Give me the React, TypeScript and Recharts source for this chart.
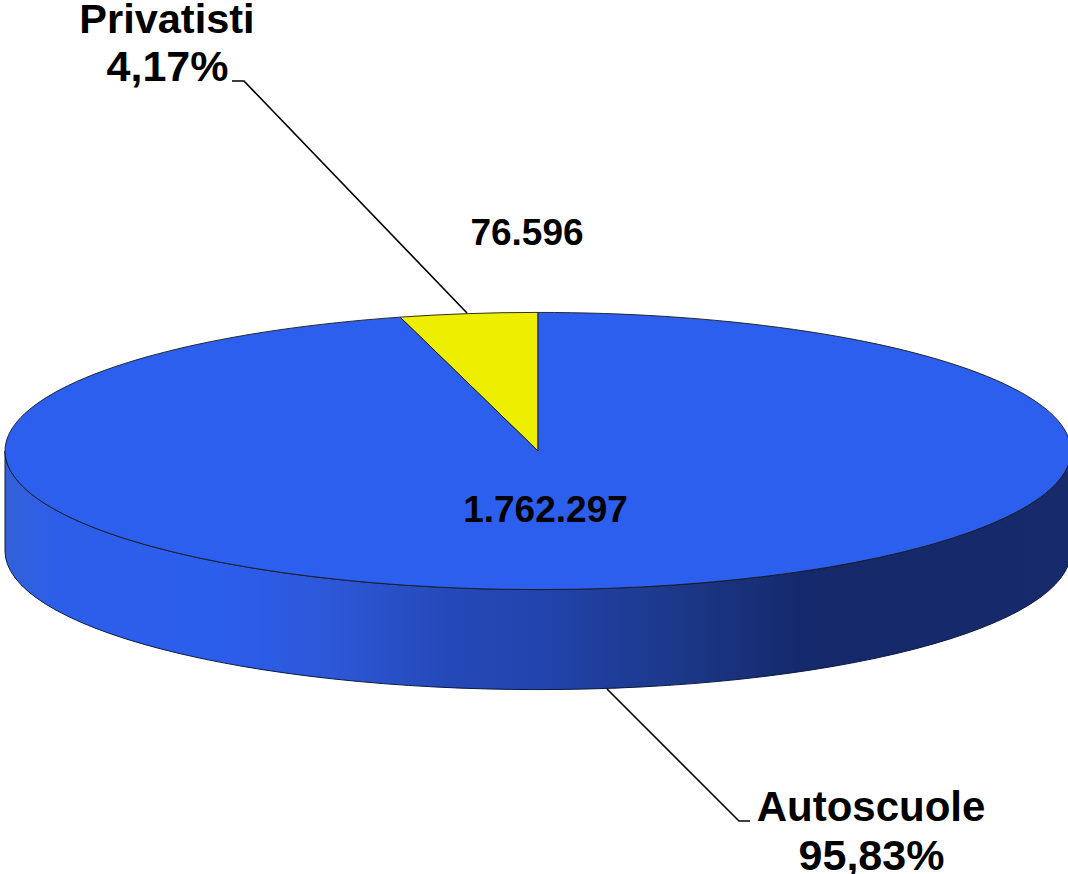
import { PieChart, Pie } from 'recharts';

const CATEGORIES = ['Privatisti', 'Autoscuole'];
const VALUES = [76596, 1762297];
const COLORS = ['#eeee00', '#2d5fee'];

const chartData = CATEGORIES.map((name, i) => ({ name, value: VALUES[i], fill: COLORS[i] }));

const FONT = '"Liberation Sans", Arial, sans-serif';
const SQUASH = 0.26; // top of the disc is a flattened circle
const DEPTH = 100; // height of the side wall

const rad = (deg: number) => (deg * Math.PI) / 180;

function EllipseSector(props: any) {
    const { cx, cy, outerRadius: rx, startAngle, endAngle, fill } = props;
    const ry = rx * SQUASH;
    const pt = (a: number, dy = 0) => [cx + rx * Math.cos(rad(a)), cy + dy - ry * Math.sin(rad(a))];
    const [x0, y0] = pt(startAngle);
    const [x1, y1] = pt(endAngle);
    const large = endAngle - startAngle > 180 ? 1 : 0;
    const top = `M${cx},${cy} L${x0},${y0} A${rx},${ry} 0 ${large} 0 ${x1},${y1} Z`;

    // side wall only where the sector passes along the front half
    const from = Math.max(startAngle, 180);
    const to = Math.min(endAngle, 360);
    let wall = null;
    if (to > from) {
        const [ax, ay] = pt(from);
        const [bx, by] = pt(to);
        const [cxb, cyb] = pt(to, DEPTH);
        const [dx, dy] = pt(from, DEPTH);
        wall = `M${ax},${ay} A${rx},${ry} 0 0 0 ${bx},${by} L${cxb},${cyb} A${rx},${ry} 0 0 1 ${dx},${dy} Z`;
    }
    return (
        <g>
            <defs>
                <linearGradient id="wallShade" x1="0" y1="0" x2="1" y2="0">
                    <stop offset="0" stopColor="#3260d8" />
                    <stop offset="0.05" stopColor="#2d5eea" />
                    <stop offset="0.2" stopColor="#2c5eec" />
                    <stop offset="0.3" stopColor="#2d58d8" />
                    <stop offset="0.42" stopColor="#2448b6" />
                    <stop offset="0.5" stopColor="#2244ae" />
                    <stop offset="0.63" stopColor="#1c3888" />
                    <stop offset="0.76" stopColor="#14286a" />
                    <stop offset="1" stopColor="#172a6c" />
                </linearGradient>
            </defs>
            {wall && <path d={wall} fill="url(#wallShade)" stroke="#0c1a40" strokeWidth={1} />}
            <path d={top} fill={fill} stroke="#1a1a1a" strokeWidth={0.9} strokeLinejoin="round" />
        </g>
    );
}

const fmtValue = (v: number) => String(v).replace(/\B(?=(\d{3})+$)/g, '.');
const fmtPct = (p: number) => (p * 100).toFixed(2).replace('.', ',') + '%';

function SliceLabel(props: any) {
    const { index, name, value, percent } = props;
    const big = { fontFamily: FONT, fontWeight: 700, fontSize: 42, fill: '#000', textAnchor: 'middle' as const };
    const small = { ...big, fontSize: 37 };
    if (index === 0) {
        return (
            <g>
                <polyline points="232,81 244,81 467,313" fill="none" stroke="#000" strokeWidth={1.6} />
                <text x={167} y={33} {...big} fontSize={41.5}>{name}</text>
                <text x={167.5} y={81} {...big} fontSize={43}>{fmtPct(percent)}</text>
                <text x={527} y={245} {...small}>{fmtValue(value)}</text>
            </g>
        );
    }
    return (
        <g>
            <polyline points="607,689 739,821 750,821" fill="none" stroke="#000" strokeWidth={1.6} />
            <text x={871} y={821} {...big}>{name}</text>
            <text x={871.5} y={870} {...big} fontSize={43}>{fmtPct(percent)}</text>
            <text x={545.5} y={522} {...small}>{fmtValue(value)}</text>
        </g>
    );
}

export default function App() {
    return (
        <div style={{ position: 'absolute', left: 0, top: 0, width: 1068, height: 874, overflow: 'hidden', background: '#fff' }}>
            <PieChart width={1068} height={874} margin={{ top: 0, right: 0, bottom: 0, left: 0 }}>
                <Pie
                    data={chartData}
                    dataKey="value"
                    nameKey="name"
                    cx={538}
                    cy={451}
                    outerRadius={533}
                    startAngle={90}
                    endAngle={450}
                    shape={EllipseSector}
                    label={SliceLabel}
                    labelLine={false}
                    isAnimationActive={false}
                />
            </PieChart>
        </div>
    );
}
